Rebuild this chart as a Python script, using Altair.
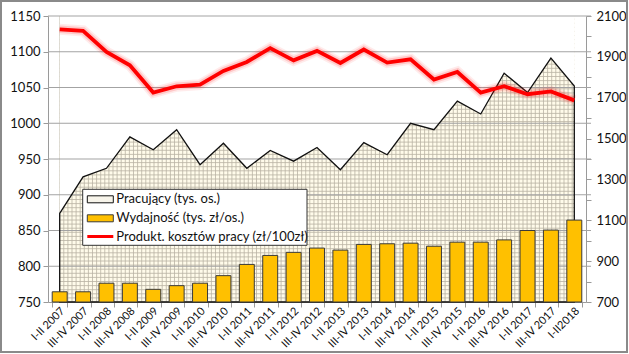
import altair as alt
import pandas as pd

categories = ["I-II 2007", "III-IV 2007", "I-II 2008", "III-IV 2008", "I-II 2009", "III-IV 2009",
              "I-II 2010", "III-IV 2010", "I-II 2011", "III-IV 2011", "I-II 2012", "III-IV 2012",
              "I-II 2013", "III-IV 2013", "I-II 2014", "III-IV 2014", "I-II 2015", "III-IV 2015",
              "I-II 2016", "III-IV 2016", "I-II 2017", "III-IV 2017", "I-II2018"]
pracujacy = [874, 925, 937, 981, 963, 991, 942, 972, 937, 962, 947, 966,
             935, 973, 956, 1000, 991, 1031, 1013, 1070, 1043, 1091, 1052]
wydajnosc = [750, 750, 792, 792, 762, 780, 792, 829, 884, 928, 943, 964,
             954, 982, 985, 988, 973, 993, 993, 1004, 1050, 1052, 1101]
produkt = [2035, 2027, 1924, 1859, 1725, 1756, 1764, 1831, 1875, 1943, 1883, 1929,
           1870, 1936, 1872, 1888, 1789, 1826, 1725, 1756, 1717, 1731, 1687]
legend_labels = ["Pracujący (tys. os.)", "Wydajność (tys. zł/os.)",
                 "Produkt. kosztów pracy (zł/100zł)"]
left_ticks = [750, 800, 850, 900, 950, 1000, 1050, 1100, 1150]
right_ticks = [700, 800, 900, 1000, 1100, 1200, 1300, 1400, 1500, 1600, 1700, 1800, 1900, 2000, 2100]

W, H = 538, 286
FONT = "Lato"
n = len(categories)
x0 = W / n / 2
x1 = W - x0

df = pd.DataFrame({"cat": categories, "prac": pracujacy, "wyd": wydajnosc, "prod": produkt})
one = pd.DataFrame({"a": [0]})

xscale = alt.Scale(domain=categories, paddingInner=0.36, paddingOuter=0.18)
xaxis = alt.Axis(labelAngle=-45, labelAlign="right", labelBaseline="middle",
                 labelFontSize=11, labelPadding=2, labelOffset=3,
                 tickBand="extent", tickSize=5, tickColor="#9a9a9a",
                 domainColor="#9a9a9a", grid=False, labelColor="#111")
xenc = alt.X("cat:N", sort=categories, title=None, scale=xscale, axis=None)
xenc_axis = alt.X("cat:N", sort=categories, title=None, scale=xscale, axis=xaxis)

lscale = alt.Scale(domain=[750, 1150], nice=False, zero=False)
rscale = alt.Scale(domain=[700, 2100], nice=False, zero=False)

# --- hatched pattern (decoration) ---
step = 4.1
vx, k = [], 0
while x0 + k * step <= x1:
    vx.append(x0 + k * step)
    k += 1
hy, k = [], 0
while k * step <= H:
    hy.append(k * step)
    k += 1
pscale_x = alt.Scale(domain=[0, W], nice=False, zero=False)
pscale_y = alt.Scale(domain=[0, H], nice=False, zero=False)
pat_bg = alt.Chart(one).mark_rect(color="#fffbea").encode(
    x=alt.value(x0), x2=alt.value(x1), y=alt.value(0), y2=alt.value(H))
pat_v = alt.Chart(pd.DataFrame({"px": vx})).mark_rule(color="#b9b3a3", strokeWidth=0.8).encode(
    x=alt.X("px:Q", scale=pscale_x, axis=None), y=alt.value(0), y2=alt.value(H))
pat_h = alt.Chart(pd.DataFrame({"py": hy})).mark_rule(color="#b9b3a3", strokeWidth=0.8).encode(
    y=alt.Y("py:Q", scale=pscale_y, axis=None), x=alt.value(x0), x2=alt.value(x1))

# --- left axis layers ---
base = alt.Chart(df)
mask = base.mark_area(color="white", opacity=1).encode(
    x=xenc_axis,
    y=alt.Y("prac:Q", scale=lscale, title=None,
            axis=alt.Axis(orient="left", values=left_ticks, grid=False, tickSize=5, format="d",
                          tickColor="#9a9a9a", domainColor="#9a9a9a", labelFontSize=13,
                          labelColor="#111", labelPadding=3)),
    y2=alt.datum(1150))
grid = alt.Chart(pd.DataFrame({"v": left_ticks[1:]})).mark_rule(color="#a3a3a3", strokeWidth=1).encode(
    y=alt.Y("v:Q", scale=lscale, axis=None), x=alt.value(0), x2=alt.value(W + 5))
outline = base.mark_area(fillOpacity=0, fill="white", stroke="#111", strokeWidth=1.3).encode(
    x=xenc, y=alt.Y("prac:Q", scale=lscale, axis=None), y2=alt.datum(750))

# --- right axis layers ---
bars = base.mark_bar(color="#ffc000", stroke="#3a3a3a", strokeWidth=1).encode(
    x=xenc,
    y=alt.Y("wyd:Q", scale=rscale, title=None,
            axis=alt.Axis(orient="right", values=right_ticks, grid=False, tickSize=5, format="d",
                          tickColor="#9a9a9a", domainColor="#9a9a9a", labelFontSize=13,
                          labelColor="#111", labelPadding=5,
                          labelExpr="datum.value % 200 == 100 ? datum.label : ''")),
    y2=alt.datum(700))
glow1 = base.mark_line(color="#ff0000", strokeWidth=11, opacity=0.08).encode(
    x=xenc, y=alt.Y("prod:Q", scale=rscale, axis=None))
glow2 = base.mark_line(color="#ff0000", strokeWidth=7.5, opacity=0.15).encode(
    x=xenc, y=alt.Y("prod:Q", scale=rscale, axis=None))
redline = base.mark_line(color="#ff0000", strokeWidth=3.8).encode(
    x=xenc, y=alt.Y("prod:Q", scale=rscale, axis=None))

# --- legend and frame (decoration) ---
lx0, lx1, ly0, ly1 = 34.7, 259, 173.3, 229.3
sx0, sx1 = 39.3, 65.3
rows = [183.3, 202.3, 220.5]
leg = [alt.Chart(one).mark_rect(fill="white", stroke="#333", strokeWidth=1).encode(
    x=alt.value(lx0), x2=alt.value(lx1), y=alt.value(ly0), y2=alt.value(ly1))]
leg.append(alt.Chart(one).mark_rect(fill="#f7f4ea", stroke="#111", strokeWidth=1).encode(
    x=alt.value(sx0), x2=alt.value(sx1), y=alt.value(rows[0] - 3.5), y2=alt.value(rows[0] + 3.5)))
leg.append(alt.Chart(one).mark_rect(fill="#ffc000", stroke="#3a3a3a", strokeWidth=1).encode(
    x=alt.value(sx0), x2=alt.value(sx1), y=alt.value(rows[1] - 3.5), y2=alt.value(rows[1] + 3.5)))
leg.append(alt.Chart(one).mark_rule(color="#ff0000", strokeWidth=3).encode(
    x=alt.value(sx0), x2=alt.value(sx1), y=alt.value(rows[2])))
for lab, ry in zip(legend_labels, rows):
    leg.append(alt.Chart(one).mark_text(align="left", baseline="middle", font=FONT,
                                        fontSize=13, color="#111").encode(
        x=alt.value(sx1 + 3), y=alt.value(ry), text=alt.value(lab)))
frame = alt.Chart(one).mark_rect(fill=None, stroke="#8a8a8a", strokeWidth=2).encode(
    x=alt.value(1 - 48), x2=alt.value(627 - 48), y=alt.value(1 - 16), y2=alt.value(352 - 16))

layers = [pat_bg, pat_v, pat_h, mask, grid, outline, bars, glow1, glow2, redline] + leg + [frame]
chart = alt.layer(*layers).resolve_scale(x="independent", y="independent").properties(
    width=W, height=H,
    autosize=alt.AutoSizeParams(type="none"),
    padding={"left": 48, "top": 16, "right": 629 - 48 - W, "bottom": 354 - 16 - H},
    background="white",
).configure_view(stroke=None).configure_axis(labelFont=FONT, domainWidth=1, tickWidth=1)

chart.save("out.html", embed_options={"renderer": "svg", "actions": False})
